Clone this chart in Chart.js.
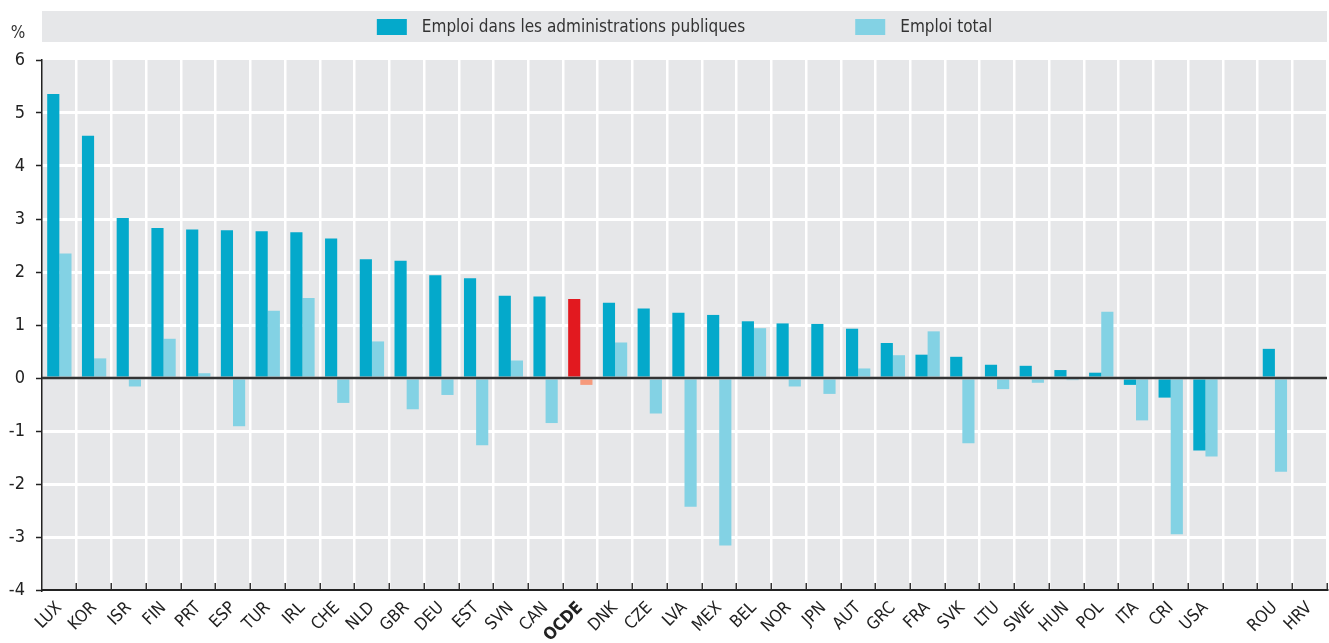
<!DOCTYPE html>
<html><head><meta charset="utf-8">
<script src="https://cdn.jsdelivr.net/npm/chart.js@4.4.1/dist/chart.umd.min.js"></script>
<style>html,body{margin:0;padding:0;background:#fff}#wrap{width:1329px;height:643px;position:relative}</style>
</head><body><div id="wrap"><canvas id="c" width="1329" height="643"></canvas></div>
<script>
const categories = ['LUX','KOR','ISR','FIN','PRT','ESP','TUR','IRL','CHE','NLD','GBR','DEU','EST','SVN','CAN','OCDE','DNK','CZE','LVA','MEX','BEL','NOR','JPN','AUT','GRC','FRA','SVK','LTU','SWE','HUN','POL','ITA','CRI','USA','','ROU','HRV'];
const seriesNames = ['Emploi dans les administrations publiques','Emploi total'];
const publicEmployment = [5.36,4.57,3.02,2.83,2.80,2.79,2.77,2.75,2.63,2.24,2.21,1.94,1.88,1.55,1.54,1.49,1.42,1.31,1.23,1.19,1.07,1.03,1.02,0.93,0.66,0.44,0.40,0.25,0.23,0.15,0.10,-0.13,-0.37,-1.37,null,0.55,null];
const totalEmployment = [2.35,0.37,-0.16,0.74,0.09,-0.91,1.27,1.51,-0.47,0.69,-0.59,-0.32,-1.27,0.33,-0.85,-0.13,0.67,-0.67,-2.43,-3.16,0.94,-0.16,-0.30,0.18,0.43,0.88,-1.23,-0.21,-0.09,-0.04,1.25,-0.80,-2.95,-1.48,null,-1.77,null];
const yMin = -4, yMax = 6, yStep = 1;
const highlight = 'OCDE';
const yUnit = '%';

const FONT = "'Liberation Sans Narrow','Arial Narrow','DejaVu Sans Condensed',sans-serif";
const C_DARK = '#04a9cb', C_LIGHT = '#83d2e4', C_RED = '#e2191f', C_SALMON = '#f69a7c';
const C_BG = '#e6e7e9', C_AXIS = '#222';

const bgPlugin = {
  id: 'bg',
  beforeDraw(chart) {
    const {ctx, chartArea: a} = chart;
    ctx.save();
    ctx.fillStyle = C_BG;
    ctx.fillRect(a.left, a.top, a.right - a.left, a.bottom - a.top);
    // legend band
    ctx.fillRect(a.left, 11, a.right - a.left, 31);
    ctx.font = '17px ' + FONT;
    ctx.textBaseline = 'middle';
    const cols = [C_DARK, C_LIGHT];
    const widths = seriesNames.map(t => 30 + 15 + ctx.measureText(t).width);
    const gap = 110;
    const total = widths[0] + gap + widths[1];
    let x = (a.left + a.right) / 2 - total / 2;
    seriesNames.forEach((t, i) => {
      ctx.fillStyle = cols[i];
      ctx.fillRect(x, 19, 30, 16);
      ctx.fillStyle = '#333';
      ctx.textAlign = 'left';
      ctx.fillText(t, x + 45, 27.5);
      x += widths[i] + gap;
    });
    // unit
    ctx.fillStyle = '#333';
    ctx.font = '17px ' + FONT;
    ctx.textAlign = 'center';
    ctx.fillText(yUnit, 18, 34);
    ctx.restore();
  },
  afterDatasetsDraw(chart) {
    const {ctx, chartArea: a, scales} = chart;
    const y0 = scales.y.getPixelForValue(0);
    ctx.save();
    ctx.strokeStyle = '#333';
    ctx.lineWidth = 2.5;
    ctx.beginPath();
    ctx.moveTo(a.left, y0); ctx.lineTo(a.right, y0);
    ctx.stroke();
    ctx.restore();
  }
};

new Chart(document.getElementById('c'), {
  type: 'bar',
  data: {
    labels: categories,
    datasets: [
      { label: seriesNames[0], data: publicEmployment,
        backgroundColor: categories.map(c => c === highlight ? C_RED : C_DARK),
        categoryPercentage: 0.7, barPercentage: 1.0, borderWidth: 0 },
      { label: seriesNames[1], data: totalEmployment,
        backgroundColor: categories.map(c => c === highlight ? C_SALMON : C_LIGHT),
        categoryPercentage: 0.7, barPercentage: 1.0, borderWidth: 0 }
    ]
  },
  options: {
    responsive: false,
    animation: false,
    devicePixelRatio: 1,
    layout: { padding: { top: 60, right: 2, left: 0, bottom: 0 } },
    plugins: { legend: { display: false }, tooltip: { enabled: false } },
    scales: {
      x: {
        afterFit(s) { s.height = 53; s.paddingRight = 0; s.paddingLeft = 0; },
        grid: {
          offset: true,
          color: ctx => ctx.index === 0 ? 'rgba(0,0,0,0)' : '#ffffff',
          lineWidth: 2.5,
          tickLength: -7,
          tickColor: ctx => ctx.index === 0 ? 'rgba(0,0,0,0)' : '#333',
          tickWidth: 1.5
        },
        border: { display: true, color: C_AXIS, width: 2 },
        ticks: {
          autoSkip: false, maxRotation: 45, minRotation: 45,
          padding: 15, color: '#222',
          font: ctx => ({ family: FONT, size: 17, weight: categories[ctx.index] === highlight ? 'bold' : 'normal' })
        }
      },
      y: {
        min: yMin, max: yMax,
        afterFit(s) { s.width = 42; s.paddingTop = 0; s.paddingBottom = 0; },
        grid: {
          color: ctx => (ctx.tick && (ctx.tick.value === 0 || ctx.tick.value === yMin || ctx.tick.value === yMax)) ? 'rgba(0,0,0,0)' : '#ffffff',
          lineWidth: 3,
          tickLength: 6,
          tickColor: '#222',
          tickWidth: 1.5
        },
        border: { display: true, color: C_AXIS, width: 1.5 },
        ticks: { stepSize: yStep, padding: 11, color: '#222', font: { family: FONT, size: 18 } }
      }
    }
  },
  plugins: [bgPlugin]
});
</script></body></html>
